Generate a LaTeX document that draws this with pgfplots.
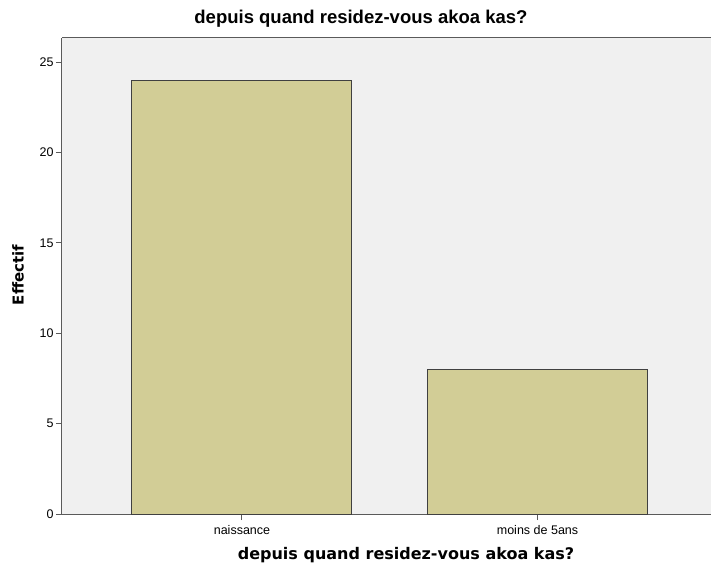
\documentclass[border=0pt]{standalone}
\usepackage{pgfplots}
\pgfplotsset{compat=1.18}
\usepackage{fontspec}
\setmainfont{Liberation Sans}
\newfontfamily\labfont{DejaVu Sans}
\definecolor{barfill}{RGB}{210,205,150}
\definecolor{bg}{RGB}{240,240,240}
\definecolor{axgray}{RGB}{90,90,90}
\begin{document}
\begin{tikzpicture}
\begin{axis}[
  scale only axis, width=649pt, height=476pt,
  xmin=-0.609, xmax=1.587, ymin=0, ymax=26.33,
  axis background/.style={fill=bg},
  axis x line*=box, axis y line*=left,
  axis line style={axgray, line width=1pt},
  xtick pos=bottom, ytick pos=left,
  tick align=outside, major tick length=6pt,
  tick style={axgray, line width=1pt},
  xtick={0,1}, xticklabels={naissance, moins de 5ans},
  ytick={0,5,10,15,20,25},
  /pgf/number format/assume math mode=true,
  ticklabel style={font=\fontsize{12.5}{14}\selectfont},
  xticklabel style={yshift=-2pt},
  yticklabel style={xshift=1pt},
  title={depuis quand residez-vous akoa kas?},
  title style={font=\bfseries\fontsize{18.5}{20}\selectfont, at={(rel axis cs:0.4607,1.0284)}, anchor=center},
  xlabel={depuis quand residez-vous akoa kas?},
  xlabel style={font=\labfont\bfseries\fontsize{16}{18}\selectfont, at={(rel axis cs:0.530,-0.0861)}, anchor=center},
  ylabel={Effectif},
  ylabel style={font=\labfont\bfseries\fontsize{15}{18}\selectfont, at={(rel axis cs:-0.0678,0.502)}, anchor=center},
]
\addplot[ybar, bar width=220pt, fill=barfill, draw=black!75, line width=1pt] coordinates {(0,24) (1,8)};
\coordinate (A) at (rel axis cs:0,0);
\coordinate (B) at (rel axis cs:1,1);
\end{axis}
\pgfresetboundingbox
\path[use as bounding box] ([xshift=-62pt,yshift=-51pt]A) rectangle ([yshift=38pt]B);
\end{tikzpicture}
\end{document}
